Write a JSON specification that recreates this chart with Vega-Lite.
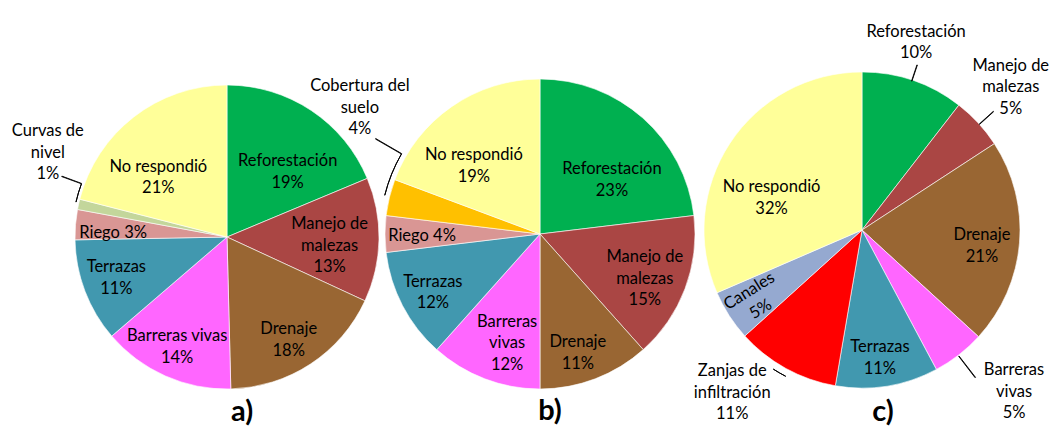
{
  "$schema": "https://vega.github.io/schema/vega-lite/v6.json",
  "background": "white",
  "padding": {"left": 11, "top": 23, "right": 0, "bottom": 0},
  "spacing": 0,
  "bounds": "flush",
  "datasets": {
    "a": [
      {"cat": "Reforestación", "v": 18.7, "label": "Reforestación\n19%", "ord": 1},
      {"cat": "Manejo de malezas", "v": 13.2, "label": "Manejo de\nmalezas\n13%", "ord": 2},
      {"cat": "Drenaje", "v": 17.7, "label": "Drenaje\n18%", "ord": 3},
      {"cat": "Barreras vivas", "v": 14.1, "label": "Barreras vivas\n14%", "ord": 4},
      {"cat": "Terrazas", "v": 11.0, "label": "Terrazas\n11%", "ord": 5},
      {"cat": "Riego", "v": 3.2, "label": "Riego 3%", "ord": 6},
      {"cat": "Curvas de nivel", "v": 1.1, "label": "Curvas de\nnivel\n1%", "ord": 7},
      {"cat": "No respondió", "v": 21.0, "label": "No respondió\n21%", "ord": 8}
    ],
    "b": [
      {"cat": "Reforestación", "v": 23.1, "label": "Reforestación\n23%", "ord": 1},
      {"cat": "Manejo de malezas", "v": 15.3, "label": "Manejo de\nmalezas\n15%", "ord": 2},
      {"cat": "Drenaje", "v": 11.6, "label": "Drenaje\n11%", "ord": 3},
      {"cat": "Barreras vivas", "v": 11.6, "label": "Barreras\nvivas\n12%", "ord": 4},
      {"cat": "Terrazas", "v": 11.5, "label": "Terrazas\n12%", "ord": 5},
      {"cat": "Riego", "v": 3.8, "label": "Riego 4%", "ord": 6},
      {"cat": "Cobertura del suelo", "v": 3.8, "label": "Cobertura del\nsuelo\n4%", "ord": 7},
      {"cat": "No respondió", "v": 19.3, "label": "No respondió\n19%", "ord": 8}
    ],
    "c": [
      {"cat": "Reforestación", "v": 10.5, "label": "Reforestación\n10%", "ord": 1},
      {"cat": "Manejo de malezas", "v": 5.3, "label": "Manejo de\nmalezas\n5%", "ord": 2},
      {"cat": "Drenaje", "v": 21.0, "label": "Drenaje\n21%", "ord": 3},
      {"cat": "Barreras vivas", "v": 5.4, "label": "Barreras\nvivas\n5%", "ord": 4},
      {"cat": "Terrazas", "v": 10.5, "label": "Terrazas\n11%", "ord": 5},
      {"cat": "Zanjas de infiltración", "v": 10.6, "label": "Zanjas de\ninfiltración\n11%", "ord": 6},
      {"cat": "Canales", "v": 5.2, "label": "Canales\n5%", "ord": 7},
      {"cat": "No respondió", "v": 31.5, "label": "No respondió\n32%", "ord": 8}
    ]
  },
  "hconcat": [
    {
      "data": {"name": "a"},
      "width": 304,
      "height": 330,
      "title": {"text": "a)", "orient": "bottom", "anchor": "middle", "offset": -4, "dx": 15, "fontSize": 29, "fontWeight": "bold", "font": "Lato", "color": "#000000"},
      "transform": [{"stack": "v", "groupby": [], "sort": [{"field": "ord"}], "as": ["s0", "s1"]}],
      "encoding": {
        "theta": {"field": "s0", "type": "quantitative", "scale": {"domain": [0, 100]}}
      },
      "layer": [
        {
          "mark": {"type": "arc", "outerRadius": 152, "stroke": "#ffffff", "strokeWidth": 0.6},
          "encoding": {
            "theta2": {"field": "s1"},
            "color": {"field": "cat", "type": "nominal", "legend": null,
              "scale": {
                "domain": ["Reforestación", "Manejo de malezas", "Drenaje", "Barreras vivas", "Terrazas", "Riego", "Curvas de nivel", "Cobertura del suelo", "Zanjas de infiltración", "Canales", "No respondió"],
                "range": ["#00B050", "#AA4644", "#996633", "#FF66FF", "#4198AF", "#D99694", "#C3D69B", "#FFC000", "#FF0000", "#95A9D0", "#FFFF99"]
              }}
          }
        },
        {"transform": [{"filter": "datum.cat === 'Curvas de nivel'"}], "mark": {"type": "arc", "innerRadius": 155, "outerRadius": 155, "thetaOffset": 0.045, "theta2Offset": 0.168, "filled": false, "stroke": "#000000", "strokeWidth": 1}, "encoding": {"theta2": {"field": "s0"}}},
        {"transform": [{"filter": "datum.cat === 'Curvas de nivel'"}], "mark": {"type": "arc", "innerRadius": 155, "outerRadius": 176, "thetaOffset": 0.168, "theta2Offset": 0.171, "fill": "#000000", "stroke": "#000000", "strokeWidth": 0.8}, "encoding": {"theta2": {"field": "s0"}}},
        {"transform": [{"filter": "datum.cat === 'Reforestación'"}], "mark": {"type": "text", "radius": 89, "thetaOffset": 0.75, "dy": -10.75}, "encoding": {"text": {"field": "label"}}},
        {"transform": [{"filter": "datum.cat === 'Manejo de malezas'"}], "mark": {"type": "text", "radius": 103, "thetaOffset": 0.483, "dy": -21.5}, "encoding": {"text": {"field": "label"}}},
        {"transform": [{"filter": "datum.cat === 'Drenaje'"}], "mark": {"type": "text", "radius": 120, "thetaOffset": 0.597, "dy": -10.75}, "encoding": {"text": {"field": "label"}}},
        {"transform": [{"filter": "datum.cat === 'Barreras vivas'"}], "mark": {"type": "text", "radius": 121, "thetaOffset": 0.45, "dy": -10.75}, "encoding": {"text": {"field": "label"}}},
        {"transform": [{"filter": "datum.cat === 'Terrazas'"}], "mark": {"type": "text", "radius": 118, "thetaOffset": 0.356, "dy": -10.75}, "encoding": {"text": {"field": "label"}}},
        {"transform": [{"filter": "datum.cat === 'Riego'"}], "mark": {"type": "text", "radius": 114, "thetaOffset": 0.054}, "encoding": {"text": {"field": "label"}}},
        {"transform": [{"filter": "datum.cat === 'Curvas de nivel'"}], "mark": {"type": "text", "radius": 198, "thetaOffset": 0.257, "dy": -21.5}, "encoding": {"text": {"field": "label"}}},
        {"transform": [{"filter": "datum.cat === 'No respondió'"}], "mark": {"type": "text", "radius": 91, "thetaOffset": 0.464, "dy": -10.75}, "encoding": {"text": {"field": "label"}}}
      ]
    },
    {
      "data": {"name": "b"},
      "width": 322,
      "height": 324,
      "title": {"text": "b)", "orient": "bottom", "anchor": "middle", "offset": 1, "dx": 10, "fontSize": 29, "fontWeight": "bold", "font": "Lato", "color": "#000000"},
      "transform": [{"stack": "v", "groupby": [], "sort": [{"field": "ord"}], "as": ["s0", "s1"]}],
      "encoding": {
        "theta": {"field": "s0", "type": "quantitative", "scale": {"domain": [0, 100]}}
      },
      "layer": [
        {
          "mark": {"type": "arc", "outerRadius": 155, "stroke": "#ffffff", "strokeWidth": 0.6},
          "encoding": {
            "theta2": {"field": "s1"},
            "color": {"field": "cat", "type": "nominal", "legend": null}
          }
        },
        {"transform": [{"filter": "datum.cat === 'Cobertura del suelo'"}], "mark": {"type": "arc", "innerRadius": 160, "outerRadius": 160, "thetaOffset": 0.125, "theta2Offset": 0.404, "filled": false, "stroke": "#000000", "strokeWidth": 1}, "encoding": {"theta2": {"field": "s0"}}},
        {"transform": [{"filter": "datum.cat === 'Cobertura del suelo'"}], "mark": {"type": "arc", "innerRadius": 160, "outerRadius": 190, "thetaOffset": 0.404, "theta2Offset": 0.407, "fill": "#000000", "stroke": "#000000", "strokeWidth": 0.8}, "encoding": {"theta2": {"field": "s0"}}},
        {"transform": [{"filter": "datum.cat === 'Reforestación'"}], "mark": {"type": "text", "radius": 90, "thetaOffset": 0.927, "dy": -10.75}, "encoding": {"text": {"field": "label"}}},
        {"transform": [{"filter": "datum.cat === 'Manejo de malezas'"}], "mark": {"type": "text", "radius": 114, "thetaOffset": 0.524, "dy": -21.5}, "encoding": {"text": {"field": "label"}}},
        {"transform": [{"filter": "datum.cat === 'Drenaje'"}], "mark": {"type": "text", "radius": 125, "thetaOffset": 0.421, "dy": -10.75}, "encoding": {"text": {"field": "label"}}},
        {"transform": [{"filter": "datum.cat === 'Barreras vivas'"}], "mark": {"type": "text", "radius": 114, "thetaOffset": 0.293, "dy": -21.5}, "encoding": {"text": {"field": "label"}}},
        {"transform": [{"filter": "datum.cat === 'Terrazas'"}], "mark": {"type": "text", "radius": 122, "thetaOffset": 0.344, "dy": -10.75}, "encoding": {"text": {"field": "label"}}},
        {"transform": [{"filter": "datum.cat === 'Riego'"}], "mark": {"type": "text", "radius": 118, "thetaOffset": 0.101}, "encoding": {"text": {"field": "label"}}},
        {"transform": [{"filter": "datum.cat === 'Cobertura del suelo'"}], "mark": {"type": "text", "radius": 220, "thetaOffset": 0.492, "dy": -21.5}, "encoding": {"text": {"field": "label"}}},
        {"transform": [{"filter": "datum.cat === 'No respondió'"}], "mark": {"type": "text", "radius": 95, "thetaOffset": 0.443, "dy": -10.75}, "encoding": {"text": {"field": "label"}}}
      ]
    },
    {
      "data": {"name": "c"},
      "width": 322,
      "height": 316,
      "title": {"text": "c)", "orient": "bottom", "anchor": "middle", "offset": -25, "dx": 21, "fontSize": 29, "fontWeight": "bold", "font": "Lato", "color": "#000000"},
      "transform": [{"stack": "v", "groupby": [], "sort": [{"field": "ord"}], "as": ["s0", "s1"]}],
      "encoding": {
        "theta": {"field": "s0", "type": "quantitative", "scale": {"domain": [0, 100]}}
      },
      "layer": [
        {
          "mark": {"type": "arc", "outerRadius": 158, "stroke": "#ffffff", "strokeWidth": 0.6},
          "encoding": {
            "theta2": {"field": "s1"},
            "color": {"field": "cat", "type": "nominal", "legend": null}
          }
        },
        {"transform": [{"filter": "datum.cat === 'Reforestación'"}], "mark": {"type": "arc", "innerRadius": 157, "outerRadius": 174, "thetaOffset": 0.321, "theta2Offset": 0.324, "fill": "#000000", "stroke": "#000000", "strokeWidth": 0.8}, "encoding": {"theta2": {"field": "s0"}}},
        {"transform": [{"filter": "datum.cat === 'Manejo de malezas'"}], "mark": {"type": "arc", "innerRadius": 158, "outerRadius": 177, "thetaOffset": 0.176, "theta2Offset": 0.179, "fill": "#000000", "stroke": "#000000", "strokeWidth": 0.8}, "encoding": {"theta2": {"field": "s0"}}},
        {"transform": [{"filter": "datum.cat === 'Barreras vivas'"}], "mark": {"type": "arc", "innerRadius": 159, "outerRadius": 186, "thetaOffset": 0.173, "theta2Offset": 0.176, "fill": "#000000", "stroke": "#000000", "strokeWidth": 0.8}, "encoding": {"theta2": {"field": "s0"}}},
        {"transform": [{"filter": "datum.cat === 'Zanjas de infiltración'"}], "mark": {"type": "arc", "innerRadius": 165, "outerRadius": 165, "thetaOffset": 0.311, "theta2Offset": 0.398, "filled": false, "stroke": "#000000", "strokeWidth": 1}, "encoding": {"theta2": {"field": "s0"}}},
        {"transform": [{"filter": "datum.cat === 'Reforestación'"}], "mark": {"type": "text", "radius": 195, "thetaOffset": 0.281, "dy": -10.75}, "encoding": {"text": {"field": "label"}}},
        {"transform": [{"filter": "datum.cat === 'Manejo de malezas'"}], "mark": {"type": "text", "radius": 206, "thetaOffset": 0.147, "dy": -21.5}, "encoding": {"text": {"field": "label"}}},
        {"transform": [{"filter": "datum.cat === 'Drenaje'"}], "mark": {"type": "text", "radius": 121, "thetaOffset": 0.71, "dy": -10.75}, "encoding": {"text": {"field": "label"}}},
        {"transform": [{"filter": "datum.cat === 'Barreras vivas'"}], "mark": {"type": "text", "radius": 222, "thetaOffset": 0.075, "dy": -21.5}, "encoding": {"text": {"field": "label"}}},
        {"transform": [{"filter": "datum.cat === 'Terrazas'"}], "mark": {"type": "text", "radius": 129, "thetaOffset": 0.351, "dy": -10.75}, "encoding": {"text": {"field": "label"}}},
        {"transform": [{"filter": "datum.cat === 'Zanjas de infiltración'"}], "mark": {"type": "text", "radius": 208, "thetaOffset": 0.504, "dy": -21.5}, "encoding": {"text": {"field": "label"}}},
        {"transform": [{"filter": "datum.cat === 'Canales'"}], "mark": {"type": "text", "radius": 128, "thetaOffset": 0.155, "dy": -10.75, "angle": -32}, "encoding": {"text": {"field": "label"}}},
        {"transform": [{"filter": "datum.cat === 'No respondió'"}], "mark": {"type": "text", "radius": 96, "thetaOffset": 0.75, "dy": -10.75}, "encoding": {"text": {"field": "label"}}}
      ]
    }
  ],
  "config": {
    "view": {"stroke": null},
    "text": {"font": "Lato", "fontSize": 16.5, "lineBreak": "\n", "lineHeight": 21.5, "color": "#000000"}
  }
}
